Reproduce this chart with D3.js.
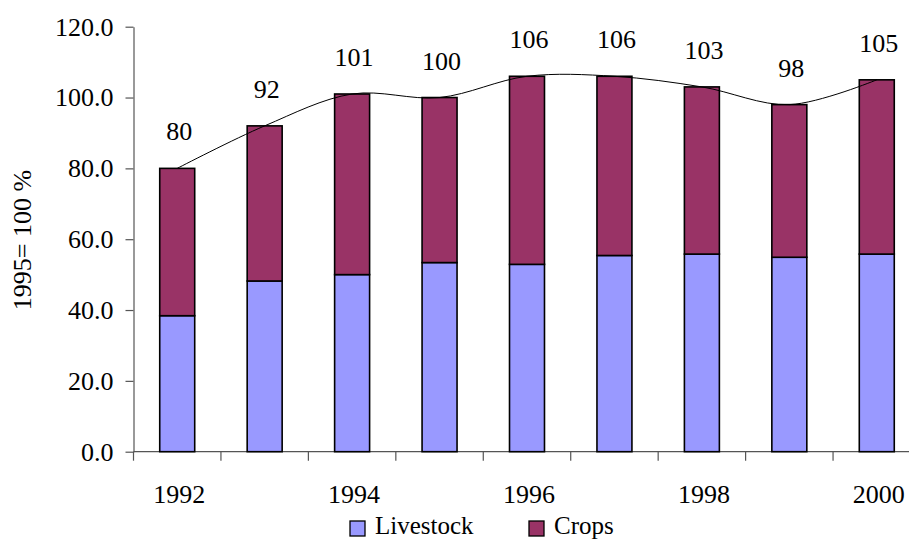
<!DOCTYPE html>
<html>
<head>
<meta charset="utf-8">
<script src="https://cdn.jsdelivr.net/npm/d3@7"></script>
<style>
  html, body { margin: 0; padding: 0; background: #fff; }
</style>
</head>
<body>
<svg id="chart" width="909" height="540"></svg>
<script>
// Agricultural output index, 1995 = 100 %
const years = ["1992", "1993", "1994", "1995", "1996", "1997", "1998", "1999", "2000"];
const livestock = [38.4, 48.2, 50.0, 53.4, 52.9, 55.4, 55.8, 54.9, 55.8];
const totals = [80, 92, 101, 100, 106, 106, 103, 98, 105];
const crops = totals.map((t, i) => t - livestock[i]);
const yTicks = [0, 20, 40, 60, 80, 100, 120];
const xLabelYears = ["1992", "1994", "1996", "1998", "2000"];
const seriesNames = ["Livestock", "Crops"];
const seriesColors = ["#9999FF", "#993366"];

const FONT = "'Times New Roman', Times, Tinos, 'Nimbus Roman', 'Nimbus Roman No9 L', 'Noto Serif', FreeSerif, 'Noto Serif CJK SC', 'Liberation Serif', serif";
const svg = d3.select("#chart");
const W = 909;

const y = d3.scaleLinear().domain([0, 120]).range([451.7, 26.7]);
const x = d3.scaleBand().domain(years).range([133.5, 920.5])
  .paddingInner(0.6).paddingOuter(0.3);

// Stacked data
const rows = years.map((yr, i) => ({ year: yr, Livestock: livestock[i], Crops: crops[i] }));
const stack = d3.stack().keys(seriesNames)(rows);

// Y axis
const yAxis = d3.axisLeft(y).tickValues(yTicks).tickFormat(d3.format(".1f"))
  .tickSize(8).tickPadding(12).tickSizeOuter(0);
const gy = svg.append("g").attr("transform", "translate(133.5,0)").call(yAxis)
  .attr("font-family", FONT);
gy.select(".domain").attr("stroke", "#555").attr("stroke-width", 1.2);
gy.selectAll(".tick line").attr("stroke", "#555").attr("stroke-width", 1.2);
gy.selectAll(".tick text").attr("font-size", 26).attr("fill", "#000");

// X axis: baseline, boundary ticks and alternating year labels
const gx = svg.append("g").attr("font-family", FONT);
gx.append("line")
  .attr("x1", 133.5).attr("x2", W)
  .attr("y1", y(0)).attr("y2", y(0))
  .attr("stroke", "#555").attr("stroke-width", 1.2);
const step = x.step();
const boundaries = years.map(yr => x(yr) - step * x.paddingInner() / 2);
boundaries.push(boundaries[boundaries.length - 1] + step);
gx.selectAll("line.bt").data(boundaries).enter().append("line")
  .attr("class", "bt")
  .attr("x1", d => d).attr("x2", d => d)
  .attr("y1", y(0)).attr("y2", y(0) + 9)
  .attr("stroke", "#555").attr("stroke-width", 1.2);
gx.selectAll("text.xl").data(xLabelYears).enter().append("text")
  .attr("class", "xl")
  .attr("x", d => x(d) + x.bandwidth() / 2 + 2)
  .attr("y", 503)
  .attr("text-anchor", "middle")
  .attr("font-size", 26)
  .text(d => d);

// Stacked bars
svg.append("g").selectAll("g").data(stack).enter().append("g")
  .attr("fill", (d, i) => seriesColors[i])
  .selectAll("rect").data(d => d).enter().append("rect")
  .attr("x", d => x(d.data.year))
  .attr("width", x.bandwidth())
  .attr("y", d => y(d[1]))
  .attr("height", d => y(d[0]) - y(d[1]))
  .attr("stroke", "#000")
  .attr("stroke-width", 1.6);

// Smoothed total line through bar tops
const line = d3.line()
  .x((d, i) => x(years[i]) + x.bandwidth() / 2)
  .y(d => y(d))
  .curve(d3.curveCatmullRom.alpha(0.5));
svg.append("path")
  .datum(totals)
  .attr("d", line)
  .attr("fill", "none")
  .attr("stroke", "#000")
  .attr("stroke-width", 1);

// Total value labels
svg.append("g").attr("font-family", FONT)
  .selectAll("text").data(totals).enter().append("text")
  .attr("x", (d, i) => x(years[i]) + x.bandwidth() / 2 + 2)
  .attr("y", d => y(d) - 28)
  .attr("text-anchor", "middle")
  .attr("font-size", 26)
  .text(d => d3.format(".0f")(d));

// Y axis title
svg.append("text")
  .attr("font-family", FONT)
  .attr("transform", "translate(31,240) rotate(-90)")
  .attr("text-anchor", "middle")
  .attr("font-size", 26)
  .text("1995= 100 %");

// Legend
const legendX = [350, 529];
const lg = svg.append("g").attr("font-family", FONT)
  .selectAll("g").data(seriesNames).enter().append("g")
  .attr("transform", (d, i) => `translate(${legendX[i]},521)`);
lg.append("rect")
  .attr("width", 15).attr("height", 15)
  .attr("fill", (d, i) => seriesColors[i])
  .attr("stroke", "#000").attr("stroke-width", 1.3);
lg.append("text")
  .attr("x", 25).attr("y", 13)
  .attr("font-size", 25)
  .text(d => d);
</script>
</body>
</html>
